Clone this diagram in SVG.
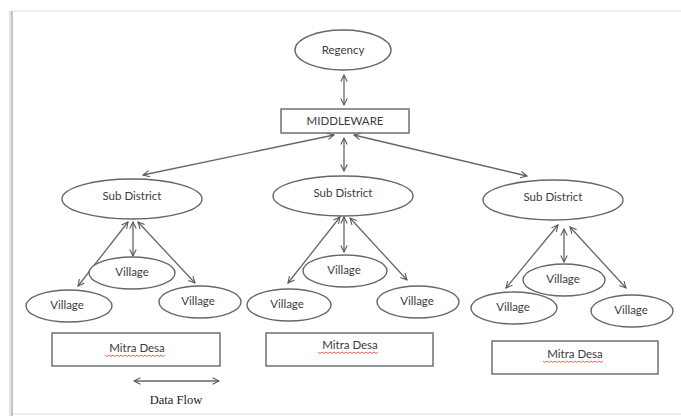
<svg xmlns="http://www.w3.org/2000/svg" width="681" height="416" viewBox="0 0 681 416">
<defs>
<marker id="ah" viewBox="0 0 10 10" refX="9" refY="5" markerWidth="8" markerHeight="8" markerUnits="userSpaceOnUse" orient="auto-start-reverse">
<path d="M1,1 L9,5 L1,9" fill="none" stroke="#555" stroke-width="1.3"/>
</marker>
</defs>
<style>
.nd{fill:#fff;stroke:#666;stroke-width:1.4}
.tx{font-family:Lato,"Open Sans","Liberation Sans",sans-serif;font-size:11.5px;fill:#3c3c3c;text-anchor:middle}
.cn{fill:none;stroke:#666;stroke-width:1.3;marker-start:url(#ah);marker-end:url(#ah)}
.sq{fill:none;stroke:#e04040;stroke-width:0.8}
</style>
<rect width="681" height="416" fill="#fff"/>
<g id="frame">
<line x1="12" y1="11" x2="681" y2="11" stroke="#e8e8e8" stroke-width="1.5"/>
<line x1="12" y1="414" x2="681" y2="414" stroke="#e8e8e8" stroke-width="1.5"/>
<line x1="10" y1="11" x2="10" y2="416" stroke="#e4e4e4" stroke-width="2"/>
<line x1="12" y1="11" x2="12" y2="416" stroke="#b0b0b0" stroke-width="1.5"/>
</g>
<g id="connectors">
<line class="cn" x1="344" y1="75" x2="344" y2="105"/>
<line class="cn" x1="334" y1="135" x2="143" y2="175"/>
<line class="cn" x1="344" y1="138" x2="344" y2="171"/>
<line class="cn" x1="354" y1="135" x2="527" y2="176"/>
<line class="cn" x1="128" y1="222" x2="78" y2="286"/>
<line class="cn" x1="133" y1="222" x2="133" y2="256"/>
<line class="cn" x1="138" y1="222" x2="195" y2="283"/>
<line class="cn" x1="340" y1="217" x2="288" y2="283"/>
<line class="cn" x1="344" y1="217" x2="344" y2="252"/>
<line class="cn" x1="350" y1="218" x2="407" y2="280"/>
<line class="cn" x1="558" y1="225" x2="506" y2="288"/>
<line class="cn" x1="564" y1="229" x2="564" y2="262"/>
<line class="cn" x1="570" y1="227" x2="626" y2="288"/>
<line class="cn" x1="134" y1="381" x2="219" y2="381"/>
</g>
<g id="regency">
<ellipse class="nd" cx="343" cy="50" rx="48" ry="20"/>
<text class="tx" x="343" y="54">Regency</text>
</g>
<g id="middleware">
<rect class="nd" x="281" y="109" width="128" height="24"/>
<text class="tx" x="345" y="125" font-size="10.5">MIDDLEWARE</text>
</g>
<g id="sub-district-1">
<ellipse class="nd" cx="132" cy="199" rx="70" ry="20"/>
<text class="tx" x="132" y="200">Sub District</text>
</g>
<g id="sub-district-2">
<ellipse class="nd" cx="343" cy="196" rx="70" ry="20"/>
<text class="tx" x="343" y="197">Sub District</text>
</g>
<g id="sub-district-3">
<ellipse class="nd" cx="553" cy="200" rx="70" ry="20"/>
<text class="tx" x="553" y="201">Sub District</text>
</g>
<g id="village-1a">
<ellipse class="nd" cx="69" cy="306" rx="43" ry="16"/>
<text class="tx" x="67" y="309">Village</text>
</g>
<g id="village-1b">
<ellipse class="nd" cx="132" cy="273" rx="43" ry="16"/>
<text class="tx" x="132" y="276">Village</text>
</g>
<g id="village-1c">
<ellipse class="nd" cx="200" cy="302" rx="41" ry="16"/>
<text class="tx" x="198" y="305">Village</text>
</g>
<g id="village-2a">
<ellipse class="nd" cx="289" cy="305" rx="42" ry="16"/>
<text class="tx" x="287" y="308">Village</text>
</g>
<g id="village-2b">
<ellipse class="nd" cx="345" cy="271" rx="42" ry="16"/>
<text class="tx" x="344" y="274">Village</text>
</g>
<g id="village-2c">
<ellipse class="nd" cx="418" cy="302" rx="41" ry="16"/>
<text class="tx" x="417" y="305">Village</text>
</g>
<g id="village-3a">
<ellipse class="nd" cx="514" cy="308" rx="43" ry="16"/>
<text class="tx" x="513" y="311">Village</text>
</g>
<g id="village-3b">
<ellipse class="nd" cx="564" cy="280" rx="41" ry="16"/>
<text class="tx" x="563" y="283">Village</text>
</g>
<g id="village-3c">
<ellipse class="nd" cx="632" cy="311" rx="41" ry="16"/>
<text class="tx" x="631" y="314">Village</text>
</g>
<g id="mitra-desa-1">
<rect class="nd" x="52" y="333" width="168" height="33"/>
<text class="tx" x="137" y="352">Mitra Desa</text>
<path class="sq" d="M105,355 l2,1.5 l2,-1.5 l2,1.5 l2,-1.5 l2,1.5 l2,-1.5 l2,1.5 l2,-1.5 l2,1.5 l2,-1.5 l2,1.5 l2,-1.5 l2,1.5 l2,-1.5 l2,1.5 l2,-1.5 l2,1.5 l2,-1.5 l2,1.5 l2,-1.5 l2,1.5 l2,-1.5 l2,1.5 l2,-1.5 l2,1.5 l2,-1.5 l2,1.5 l2,-1.5 l2,1.5 l2,-1.5"/>
</g>
<g id="mitra-desa-2">
<rect class="nd" x="266" y="333" width="167" height="33"/>
<text class="tx" x="350" y="349">Mitra Desa</text>
<path class="sq" d="M318,352 l2,1.5 l2,-1.5 l2,1.5 l2,-1.5 l2,1.5 l2,-1.5 l2,1.5 l2,-1.5 l2,1.5 l2,-1.5 l2,1.5 l2,-1.5 l2,1.5 l2,-1.5 l2,1.5 l2,-1.5 l2,1.5 l2,-1.5 l2,1.5 l2,-1.5 l2,1.5 l2,-1.5 l2,1.5 l2,-1.5 l2,1.5 l2,-1.5 l2,1.5 l2,-1.5 l2,1.5 l2,-1.5"/>
</g>
<g id="mitra-desa-3">
<rect class="nd" x="492" y="341" width="166" height="33"/>
<text class="tx" x="575" y="358">Mitra Desa</text>
<path class="sq" d="M543,361 l2,1.5 l2,-1.5 l2,1.5 l2,-1.5 l2,1.5 l2,-1.5 l2,1.5 l2,-1.5 l2,1.5 l2,-1.5 l2,1.5 l2,-1.5 l2,1.5 l2,-1.5 l2,1.5 l2,-1.5 l2,1.5 l2,-1.5 l2,1.5 l2,-1.5 l2,1.5 l2,-1.5 l2,1.5 l2,-1.5 l2,1.5 l2,-1.5 l2,1.5 l2,-1.5 l2,1.5 l2,-1.5"/>
</g>
<g id="legend">
<text x="176" y="404" font-family="'Liberation Serif',serif" font-size="12.5" fill="#222" text-anchor="middle">Data Flow</text>
</g>
</svg>
